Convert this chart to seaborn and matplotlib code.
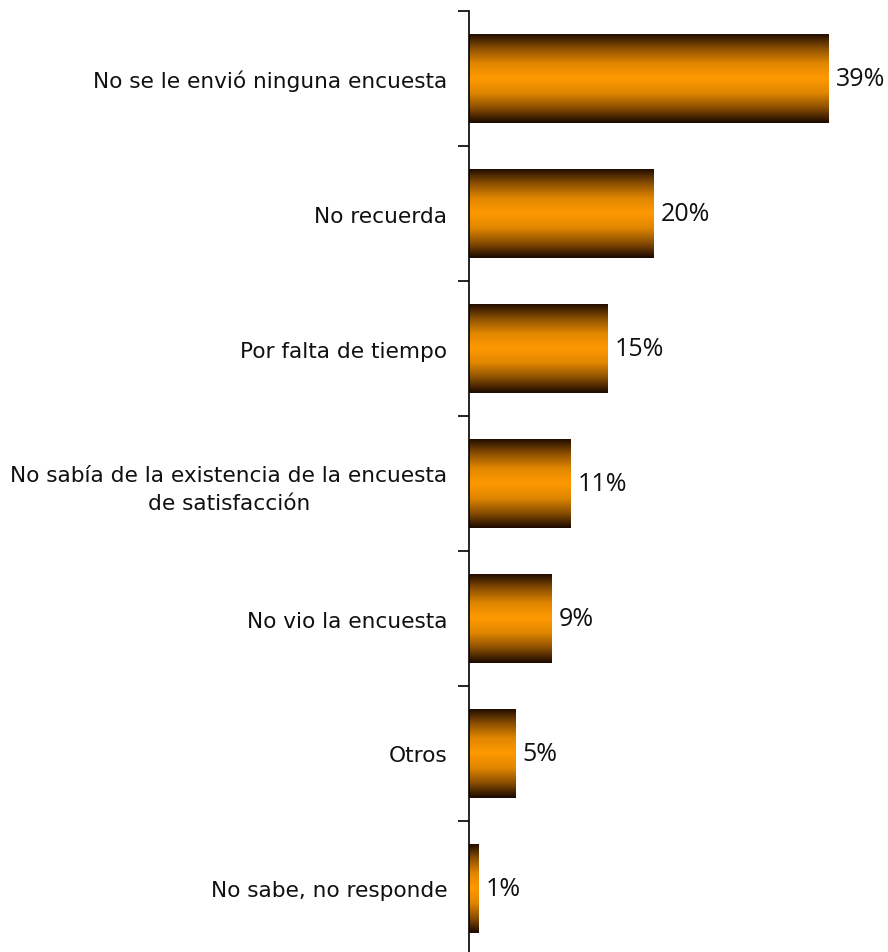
import numpy as np
import pandas as pd
import matplotlib
matplotlib.use("Agg")
import matplotlib.pyplot as plt
import seaborn as sns
from matplotlib.colors import LinearSegmentedColormap

categories = [
    "No se le envió ninguna encuesta",
    "No recuerda",
    "Por falta de tiempo",
    "No sabía de la existencia de la encuesta\nde satisfacción",
    "No vio la encuesta",
    "Otros",
    "No sabe, no responde",
]
values = [39, 20, 15, 11, 9, 5, 1]
value_labels = ["39%", "20%", "15%", "11%", "9%", "5%", "1%"]

sns.set_theme(style="white")
plt.rcParams['font.family'] = ['DejaVu Sans']

W, H = 888, 953
fig = plt.figure(figsize=(W / 100, H / 100), dpi=100)
left = 469 / W
top_px, bot_px = 12, 957
ax = fig.add_axes([left, (H - bot_px) / H, 1 - left, (bot_px - top_px) / H])

df = pd.DataFrame({"cat": categories, "val": values})
sns.barplot(data=df, y="cat", x="val", orient="h", ax=ax, width=0.66,
            color="#FF9900", saturation=1, edgecolor="none")

ax.set_xlim(0, 45.5)
ax.set_ylim(len(categories) - 0.5, -0.5)

cmap = LinearSegmentedColormap.from_list(
    "g", ["#1a0800", "#8a4e00", "#e08600", "#FF9900", "#e08600", "#8a4e00", "#1a0800"])
grad = np.linspace(0, 1, 256).reshape(-1, 1)
for p in ax.patches:
    x0, y0 = p.get_x(), p.get_y()
    w, h = p.get_width(), p.get_height()
    im = ax.imshow(grad, cmap=cmap, aspect="auto", extent=[x0, x0 + w, y0 + h, y0],
                   interpolation="bicubic", zorder=p.get_zorder() + 0.1)
    im.set_clip_path(p)
    p.set_facecolor("none")

for i, (v, lab) in enumerate(zip(values, value_labels)):
    ax.text(v + 0.8, i, lab, va="center", ha="left", fontsize=18,
            color="#111111", family="Open Sans")

ax.set_xlabel("")
ax.set_ylabel("")
ax.set_xticks([])
ax.set_yticks(range(len(categories)))
ax.set_yticklabels(categories, fontsize=15.6, color="#111111", linespacing=1.5)
for t in ax.get_yticklabels():
    t.set_horizontalalignment("right")
    t.set_multialignment("center")
ax.tick_params(axis="y", which="major", length=0, pad=15.5)
ax.set_yticks(np.arange(-0.5, len(categories), 1), minor=True)
ax.tick_params(axis="y", which="minor", length=8, width=1.2, color="black",
               left=True, direction="out")
for s in ["top", "right", "bottom"]:
    ax.spines[s].set_visible(False)
ax.spines["left"].set_color("black")
ax.spines["left"].set_linewidth(1.2)

fig.savefig("out.png", dpi=100)
